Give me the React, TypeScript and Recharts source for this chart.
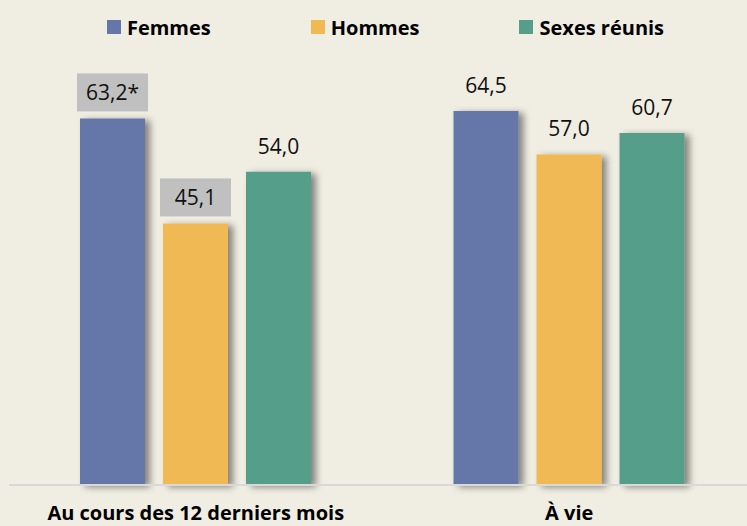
import { BarChart, Bar, XAxis, YAxis, Legend, LabelList, Rectangle } from 'recharts';

const categories = ['Au cours des 12 derniers mois', 'À vie'];
const femmes = [63.2, 64.5];
const hommes = [45.1, 57.0];
const sexesReunis = [54.0, 60.7];
// écarts significatifs : étiquette sur fond gris (+ astérisque chez les femmes)
const femmesSuffixe = ['*', ''];
const femmesEncadre = [true, false];
const hommesEncadre = [true, false];
const sexesEncadre = [false, false];

const data = categories.map((c, i) => ({
  categorie: c,
  femmes: femmes[i],
  hommes: hommes[i],
  sexesReunis: sexesReunis[i],
}));

const COLORS = { femmes: '#6577a8', hommes: '#f1b952', sexesReunis: '#559e8a' };
const BG = '#f0ede2';
const FONT = '"Open Sans", sans-serif';

const fmt = (v: number) => v.toFixed(1).replace('.', ',');

const makeLabel = (encadre: boolean[], suffixe?: string[]) => (props: any) => {
  const { x, y, width, value, index } = props;
  const cx = x + width / 2;
  const cy = y - 26;
  const txt = fmt(value) + (suffixe ? suffixe[index] : '');
  return (
    <g>
      {encadre[index] && <rect x={cx - 35.5} y={cy - 19} width={71} height={38} fill="#c0c0c0" />}
      <text x={cx} y={cy} textAnchor="middle" dominantBaseline="central" fontFamily={FONT} fontSize={21} fill="#111">
        {txt}
      </text>
    </g>
  );
};

const shadowShape = (props: any) => <Rectangle {...props} filter="url(#barShadow)" />;

const CategoryTick = ({ x, y, payload }: any) => (
  <text x={x} y={y} dy={27} textAnchor="middle" dominantBaseline="central" fontFamily={FONT} fontWeight={700} fontSize={20} fill="#000">
    {payload.value}
  </text>
);

const legendItems = [
  { label: 'Femmes', color: COLORS.femmes },
  { label: 'Hommes', color: COLORS.hommes },
  { label: 'Sexes réunis', color: COLORS.sexesReunis },
];

const LegendContent = () => (
  <div style={{ height: 79, display: 'flex', justifyContent: 'center', gap: 100, paddingTop: 13, paddingLeft: 6, boxSizing: 'border-box' }}>
    {legendItems.map((it) => (
      <div key={it.label} style={{ display: 'flex', alignItems: 'center', height: 28 }}>
        <span style={{ width: 14, height: 14, background: it.color, marginRight: 6, display: 'inline-block' }} />
        <span style={{ fontFamily: FONT, fontWeight: 700, fontSize: 20, color: '#000' }}>{it.label}</span>
      </div>
    ))}
  </div>
);

export default function App() {
  return (
    <div style={{ position: 'absolute', left: 0, top: 0, width: 747, height: 526, overflow: 'hidden', background: BG }}>
      <svg width={0} height={0} style={{ position: 'absolute' }}>
        <defs>
          <filter id="barShadow" x="-20%" y="-10%" width="160%" height="130%">
            <feDropShadow dx={5} dy={2} stdDeviation={3.5} floodColor="#000" floodOpacity={0.45} />
          </filter>
        </defs>
      </svg>
      <BarChart
        width={756}
        height={526}
        data={data}
        margin={{ top: 0, right: 0, left: 9, bottom: 0 }}
        barSize={65}
        barGap={18}
      >
        <Legend verticalAlign="top" height={79} content={<LegendContent />} />
        <XAxis
          dataKey="categorie"
          height={41}
          axisLine={{ stroke: '#d9d9d9', strokeWidth: 2 }}
          tickLine={false}
          tickSize={0}
          tickMargin={0}
          tick={<CategoryTick />}
          interval={0}
        />
        <YAxis hide width={0} domain={[0, 70]} />
        <Bar dataKey="femmes" fill={COLORS.femmes} shape={shadowShape} isAnimationActive={false}>
          <LabelList dataKey="femmes" content={makeLabel(femmesEncadre, femmesSuffixe)} />
        </Bar>
        <Bar dataKey="hommes" fill={COLORS.hommes} shape={shadowShape} isAnimationActive={false}>
          <LabelList dataKey="hommes" content={makeLabel(hommesEncadre)} />
        </Bar>
        <Bar dataKey="sexesReunis" fill={COLORS.sexesReunis} shape={shadowShape} isAnimationActive={false}>
          <LabelList dataKey="sexesReunis" content={makeLabel(sexesEncadre)} />
        </Bar>
      </BarChart>
    </div>
  );
}
